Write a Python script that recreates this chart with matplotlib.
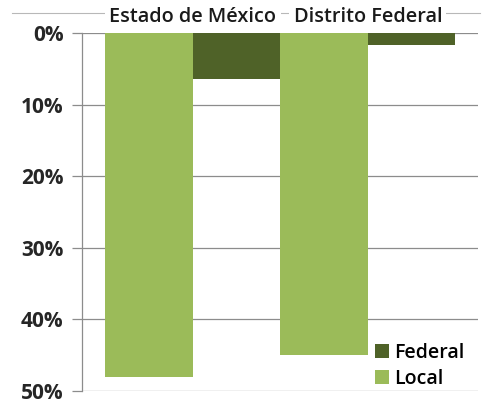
import matplotlib
matplotlib.use("Agg")
import matplotlib.pyplot as plt
import numpy as np
from matplotlib.lines import Line2D

categories = ["Estado de México", "Distrito Federal"]
federal = [6.4, 1.7]
local = [48.0, 45.0]
yticks = [0, 10, 20, 30, 40, 50]

light = "#9BBB59"
dark = "#4F6228"
fam = ["Open Sans", "DejaVu Sans"]

fig = plt.figure(figsize=(4.91, 4.04), dpi=100)
W, H = 491, 404
ax = fig.add_axes([82 / W, 1 - 391 / H, (478 - 82) / W, (391 - 33) / H])

x = np.arange(len(categories))
ax.bar(x - 0.25, local, width=0.5, color=light, label="Local", zorder=3)
ax.bar(x + 0.25, federal, width=0.5, color=dark, label="Federal", zorder=3)

ax.set_xlim(-0.634, 1.629)
ax.set_ylim(50, 0)
ax.set_yticks(yticks)
ax.set_yticklabels([f"{v}%" for v in yticks], fontsize=15, fontweight="bold",
                   family=fam, color="#262626")
ax.yaxis.grid(True, color="#8c8c8c", linewidth=0.9, zorder=0)
ax.tick_params(axis="y", length=7.2, color="#8c8c8c", width=0.9, pad=6)
ax.set_xticks([])
for s in ["top", "right", "bottom"]:
    ax.spines[s].set_visible(False)
ax.spines["left"].set_color("#8c8c8c")
ax.spines["left"].set_linewidth(0.9)

fig.add_artist(Line2D([12 / W, 480 / W], [1 - 13 / H, 1 - 13 / H],
                      color="#b8b8b8", linewidth=0.8, zorder=0))

for xi, name in zip(x, categories):
    ax.text(xi, -0.9, name, ha="center", va="bottom", fontsize=14.3,
            fontweight="semibold", family=fam, color="#1a1a1a", clip_on=False,
            zorder=5, bbox=dict(facecolor="white", edgecolor="none", pad=3))

h, l = ax.get_legend_handles_labels()
leg = ax.legend(h[::-1], l[::-1], loc="lower right", bbox_to_anchor=(1.005, -0.037),
                frameon=False, handlelength=0.75, handleheight=0.75,
                handletextpad=0.25, labelspacing=0.3, borderpad=0.3,
                prop={"family": fam, "size": 14, "weight": "semibold"})

fig.savefig("out.png", dpi=100)
